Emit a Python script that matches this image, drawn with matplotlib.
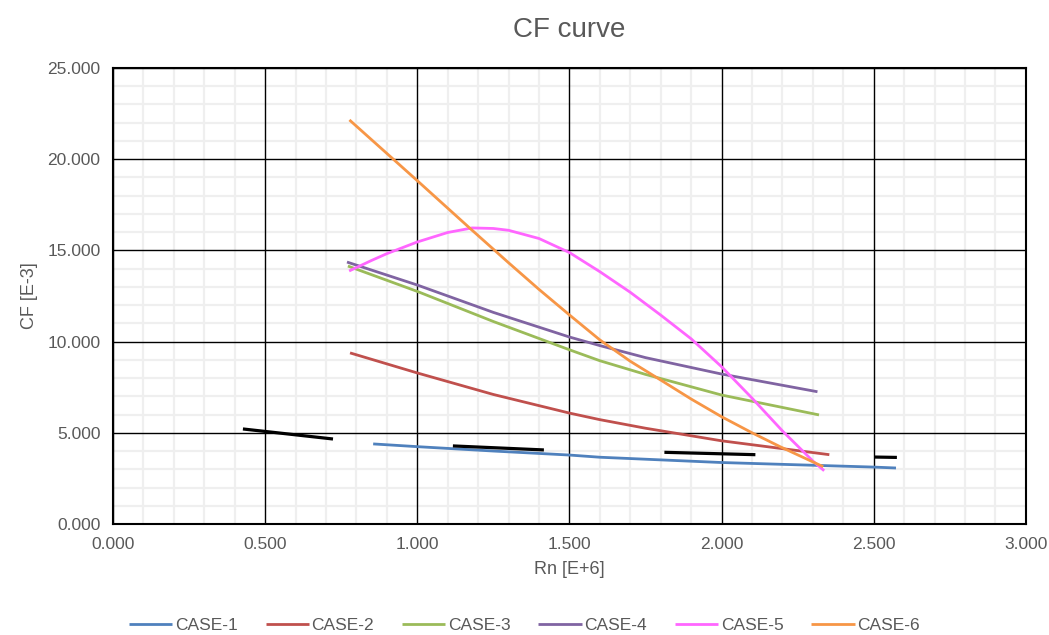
import matplotlib
matplotlib.use('Agg')
import matplotlib.pyplot as plt
from matplotlib.ticker import MultipleLocator, FormatStrFormatter

plt.rcParams['font.family'] = ['Liberation Sans', 'DejaVu Sans']

# Rn [E+6] / CF [E-3]
rn_1 = [0.855, 1.0, 1.25, 1.5, 1.6, 2.0, 2.5, 2.573]
cf_1 = [4.39, 4.24, 4.00, 3.78, 3.66, 3.37, 3.12, 3.07]

rn_2 = [0.779, 1.0, 1.25, 1.5, 1.6, 1.75, 2.0, 2.354]
cf_2 = [9.38, 8.28, 7.10, 6.08, 5.72, 5.25, 4.56, 3.80]

rn_3 = [0.772, 1.0, 1.25, 1.5, 1.6, 1.75, 2.0, 2.32]
cf_3 = [14.14, 12.75, 11.10, 9.55, 8.95, 8.20, 7.07, 5.98]

rn_4 = [0.769, 1.0, 1.25, 1.5, 1.6, 1.75, 2.0, 2.315]
cf_4 = [14.36, 13.10, 11.60, 10.25, 9.78, 9.12, 8.22, 7.25]

rn_5 = [0.776, 0.85, 0.9, 1.0, 1.1, 1.18, 1.25, 1.3, 1.4, 1.5, 1.6, 1.7, 1.8, 1.9, 2.0, 2.1,
        2.2, 2.3, 2.337]
cf_5 = [13.87, 14.45, 14.82, 15.46, 15.98, 16.23, 16.20, 16.10, 15.65, 14.88, 13.83, 12.70,
        11.45, 10.15, 8.62, 6.90, 5.10, 3.45, 2.92]

rn_6 = [0.777, 1.0, 1.173, 1.3, 1.4, 1.5, 1.6, 1.7, 1.8, 1.9, 2.0, 2.1, 2.192, 2.334]
cf_6 = [22.15, 18.82, 16.21, 14.32, 12.86, 11.46, 10.09, 8.92, 7.89, 6.85, 5.88, 5.00,
        4.24, 3.14]

labels = ['CASE-1', 'CASE-2', 'CASE-3', 'CASE-4', 'CASE-5', 'CASE-6']
colors = ['#4F81BD', '#C0504D', '#9BBB59', '#8064A2', '#FF66FF', '#F79646']

# short black reference segments (not in legend)
ref_rn = [[0.427, 0.723], [1.117, 1.416], [1.812, 2.111], [2.504, 2.576]]
ref_cf = [[5.21, 4.66], [4.28, 4.06], [3.93, 3.80], [3.67, 3.65]]

fig = plt.figure(figsize=(10.49, 6.35), dpi=100)
rect = [0.1077, 0.1748, 0.8703, 0.7182]

# light minor grid on a background axes, so the black major grid stays unbroken
bg = fig.add_axes(rect, zorder=0)
bg.set_xlim(0, 3)
bg.set_ylim(0, 25)
bg.xaxis.set_minor_locator(MultipleLocator(0.1))
bg.yaxis.set_minor_locator(MultipleLocator(1))
bg.grid(which='minor', color='#EFEFEF', lw=1.6)
bg.tick_params(which='both', length=0, labelbottom=False, labelleft=False)
for s in bg.spines.values():
    s.set_visible(False)

ax = fig.add_axes(rect, zorder=1)
ax.patch.set_visible(False)

for x, y, c, lab in zip([rn_1, rn_2, rn_3, rn_4, rn_5, rn_6],
                        [cf_1, cf_2, cf_3, cf_4, cf_5, cf_6], colors, labels):
    ax.plot(x, y, color=c, lw=2.0, label=lab, solid_capstyle='butt', zorder=3)

for x, y in zip(ref_rn, ref_cf):
    ax.plot(x, y, color='black', lw=2.3, solid_capstyle='butt', zorder=4)

ax.set_xlim(0, 3)
ax.set_ylim(0, 25)
ax.xaxis.set_major_locator(MultipleLocator(0.5))
ax.yaxis.set_major_locator(MultipleLocator(5))
ax.xaxis.set_major_formatter(FormatStrFormatter('%.3f'))
ax.yaxis.set_major_formatter(FormatStrFormatter('%.3f'))

ax.grid(which='major', color='black', lw=1.0)
ax.set_axisbelow(True)
for s in ax.spines.values():
    s.set_color('black')
    s.set_linewidth(1.5)

ax.tick_params(which='both', length=0, labelsize=12.5, labelcolor='#595959', pad=9)
ax.set_xlabel('Rn [E+6]', fontsize=13, color='#595959', labelpad=7)
ax.set_ylabel('CF [E-3]', fontsize=13, color='#595959', labelpad=7)
ax.set_title('CF curve', fontsize=20, color='#595959', pad=22)

leg = fig.legend(loc='lower center', ncol=6, bbox_to_anchor=(0.5, -0.022), frameon=False,
                 fontsize=12.5, handlelength=2.5, columnspacing=1.6, handletextpad=0.15)
for t in leg.get_texts():
    t.set_color('#595959')

fig.savefig('out.png', dpi=100)
